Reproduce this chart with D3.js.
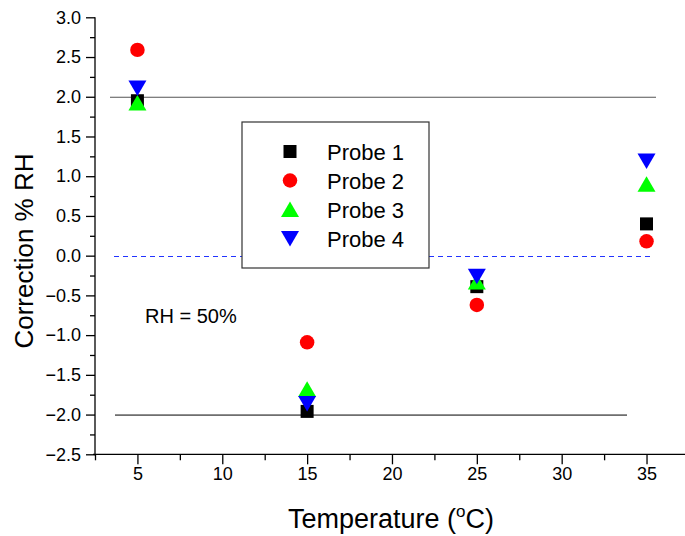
<!DOCTYPE html>
<html>
<head lang="en">
    <meta charset="UTF-8">
    <title></title>
    <script src="https://cdn.jsdelivr.net/npm/d3@7/dist/d3.min.js" charset="UTF-8"></script>
    <style>
        body{margin:0;background:#fff;}
        text{font-family:"Liberation Sans",Arial,sans-serif;}
    </style>
</head>
<body>
<script>
    // temperatures (x) and correction values per probe
    var temps=[5,15,25,35];
    var probe1=[1.95,-1.96,-0.39,0.40];
    var probe2=[2.59,-1.09,-0.62,0.18];
    var probe3=[1.92,-1.68,-0.33,0.90];
    var probe4=[2.11,-1.86,-0.26,1.19];
    var probeNames=["Probe 1","Probe 2","Probe 3","Probe 4"];
    var xTicks=[5,10,15,20,25,30,35];
    var yTicks=[-2.5,-2.0,-1.5,-1.0,-0.5,0.0,0.5,1.0,1.5,2.0,2.5,3.0];

    var W=685,H=536;
    var svg=d3.select("body").append("svg")
            .attr("width",W).attr("height",H);

    var x=d3.scaleLinear().domain([2.5,37.5]).range([95,95+35*16.97]);
    var y=d3.scaleLinear().domain([-2.5,3.0]).range([454.3,17.3]);

    //坐标轴
    var xAxis=svg.append("g").attr("transform","translate(0,"+y(-2.5)+")");
    xAxis.call(d3.axisBottom(x).tickValues(d3.range(2.5,37.6,2.5)).tickSize(6).tickFormat(""));
    xAxis.call(function(g){g.selectAll(".tick line").filter(function(d){return d%5===0;}).attr("y2",10);});
    xAxis.select(".domain").attr("d","M93,0H"+W);
    var xLab=svg.append("g").attr("transform","translate(0,"+y(-2.5)+")")
            .call(d3.axisBottom(x).tickValues(xTicks).tickSize(0).tickPadding(13));
    xLab.select(".domain").remove();

    var yAxis=svg.append("g").attr("transform","translate(95,0)");
    yAxis.call(d3.axisLeft(y).tickValues(d3.range(-2.5,3.01,0.25)).tickSize(5).tickFormat(""));
    yAxis.call(function(g){g.selectAll(".tick line").filter(function(d){return Math.abs(d*2-Math.round(d*2))<1e-6;}).attr("x2",-9);});
    yAxis.select(".domain").attr("d","M0,"+y(3.0)+"V"+(y(-2.5)+1));
    var yLab=svg.append("g").attr("transform","translate(95,0)")
            .call(d3.axisLeft(y).tickValues(yTicks).tickSize(0).tickPadding(14).tickFormat(d3.format(".1f")));
    yLab.select(".domain").remove();

    svg.selectAll(".tick text").style("font-size","18px").attr("fill","#000")
            .style("font-family","'Liberation Sans',Arial,sans-serif");
    svg.selectAll(".domain, .tick line").attr("stroke","#000").attr("stroke-width",1.3);

    //参考线
    svg.append("line").attr("x1",110).attr("x2",656).attr("y1",y(2)+0.5).attr("y2",y(2)+0.5)
            .attr("stroke","#555").attr("stroke-width",1.2);
    svg.append("line").attr("x1",115).attr("x2",627).attr("y1",y(-2)+0.5).attr("y2",y(-2)+0.5)
            .attr("stroke","#000").attr("stroke-width",1);
    svg.append("line").attr("x1",114).attr("x2",652).attr("y1",Math.round(y(0))+0.5).attr("y2",Math.round(y(0))+0.5)
            .attr("stroke","#2233ff").attr("stroke-width",1).attr("stroke-dasharray","5,4");

    var series=[
        {vals:probe1,type:d3.symbolSquare,size:169,color:"#000000"},
        {vals:probe2,type:d3.symbolCircle,size:165,color:"#ff0000"},
        {vals:probe3,type:"up",color:"#00ff00"},
        {vals:probe4,type:"down",color:"#0000ff"}
    ];
    function symPath(s){
        if(s.type==="up") return "M0,-8L9,7.5L-9,7.5Z";
        if(s.type==="down") return "M0,8L9,-7.5L-9,-7.5Z";
        return d3.symbol().type(s.type).size(s.size)();
    }

    //数据点
    series.forEach(function(s){
        svg.append("g").selectAll("path")
                .data(s.vals)
                .enter()
                .append("path")
                .attr("transform",function(d,i){return "translate("+x(temps[i])+","+y(d)+")";})
                .attr("d",symPath(s))
                .style("fill",s.color);
    });

    //图例
    var lg=svg.append("g");
    lg.append("rect").attr("x",242).attr("y",122).attr("width",187).attr("height",146)
            .attr("fill","#fff").attr("stroke","#333").attr("stroke-width",1.2);
    series.forEach(function(s,i){
        var cy=151.5+i*29;
        lg.append("path").attr("transform","translate(290,"+cy+")")
                .attr("d",symPath(s)).style("fill",s.color);
        lg.append("text").attr("x",327).attr("y",cy+8)
                .style("font-size","22px").text(probeNames[i]);
    });

    svg.append("text").attr("x",145).attr("y",323).style("font-size","20px").text("RH = 50%");

    //坐标轴标题
    var xt=svg.append("text").attr("x",391).attr("y",528).attr("text-anchor","middle")
            .style("font-size","27px");
    xt.append("tspan").text("Temperature (");
    xt.append("tspan").attr("dy",-11).style("font-size","17px").text("o");
    xt.append("tspan").attr("dy",11).text("C)");

    svg.append("text").attr("transform","translate(33,251) rotate(-90)")
            .attr("text-anchor","middle").style("font-size","26px").text("Correction % RH");
</script>
</body>
</html>
